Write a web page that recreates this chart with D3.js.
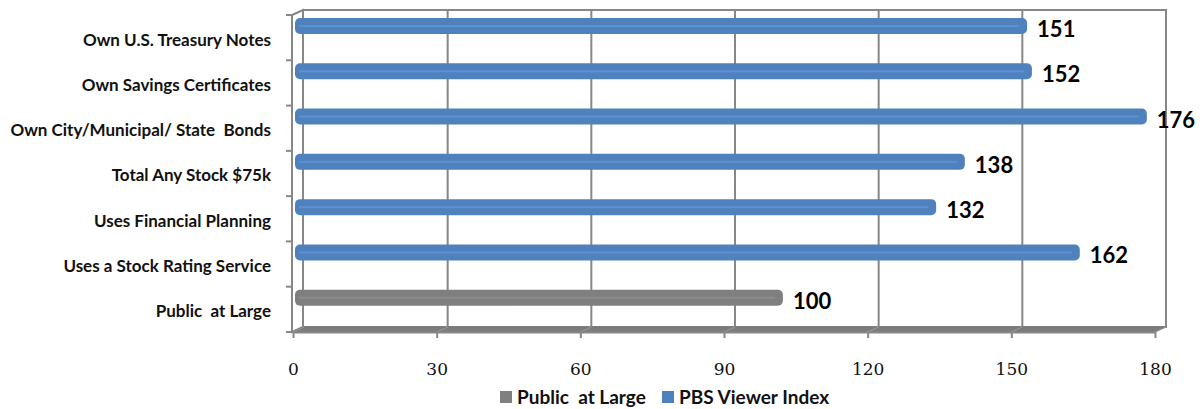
<!DOCTYPE html>
<html>
<head>
<meta charset="utf-8">
<script src="https://cdn.jsdelivr.net/npm/d3@7"></script>
<style>
  html, body { margin: 0; padding: 0; background: #fff; }
  svg { display: block; }
  text { white-space: pre; }
</style>
</head>
<body>
<svg id="chart" width="1204" height="409"></svg>
<script>
// Categories, top to bottom
const categories = [
  "Own U.S. Treasury Notes",
  "Own Savings Certificates",
  "Own City/Municipal/ State  Bonds",
  "Total Any Stock $75k",
  "Uses Financial Planning",
  "Uses a Stock Rating Service",
  "Public  at Large"
];
// Index value for each category
const values = [151, 152, 176, 138, 132, 162, 100];
// Series each category's bar belongs to
const seriesOf = [
  "PBS Viewer Index", "PBS Viewer Index", "PBS Viewer Index",
  "PBS Viewer Index", "PBS Viewer Index", "PBS Viewer Index",
  "Public  at Large"
];
const seriesNames = ["Public  at Large", "PBS Viewer Index"];
const xTicks = [0, 30, 60, 90, 120, 150, 180];

const svg = d3.select("#chart");

const plotL = 292, plotR = 1155, plotT = 15, plotB = 332;
const depthX = 11, depthY = -5;

const x = d3.scaleLinear().domain([0, 180]).range([plotL + 1, plotR]);
const y = d3.scaleBand().domain(categories).range([plotT, plotB]).padding(0);
const color = d3.scaleOrdinal().domain(seriesNames).range(["#7f7f7f", "#4f81bd"]);
const highlight = d3.scaleOrdinal().domain(seriesNames).range(["#8c8c8c", "#5c91d3"]);

const frame = "#878787";

// Back wall
svg.append("rect")
  .attr("x", plotL + depthX).attr("y", plotT + depthY)
  .attr("width", plotR - plotL).attr("height", plotB - plotT)
  .attr("fill", "#fff").attr("stroke", frame).attr("stroke-width", 2);

// Gridlines on the back wall
svg.append("g").selectAll("line")
  .data(xTicks.slice(1, -1))
  .join("line")
  .attr("x1", d => x(d) + depthX).attr("x2", d => x(d) + depthX)
  .attr("y1", plotT + depthY).attr("y2", plotB + depthY)
  .attr("stroke", frame).attr("stroke-width", 2);

// Left wall
svg.append("path")
  .attr("d", `M${plotL},${plotT}L${plotL + depthX},${plotT + depthY}L${plotL + depthX},${plotB + depthY}L${plotL},${plotB}Z`)
  .attr("fill", "#fff").attr("stroke", frame).attr("stroke-width", 2);

// Floor
svg.append("path")
  .attr("d", `M${plotL},${plotB}L${plotL + depthX},${plotB + depthY}L${plotR + depthX},${plotB + depthY}L${plotR},${plotB}Z`)
  .attr("fill", "#7c7c7c").attr("stroke", "#777").attr("stroke-width", 1);
svg.append("g").selectAll("line")
  .data(xTicks)
  .join("line")
  .attr("x1", d => x(d)).attr("y1", plotB)
  .attr("x2", d => x(d) + depthX).attr("y2", plotB + depthY)
  .attr("stroke", "#9a9a9a").attr("stroke-width", 1);

// Bars
const barH = 16, barOff = 3;
const bars = svg.append("g").selectAll("g")
  .data(categories.map((c, i) => ({ c, v: values[i], s: seriesOf[i] })))
  .join("g");
bars.append("rect")
  .attr("x", x(0) + 2)
  .attr("y", d => y(d.c) + barOff)
  .attr("width", d => x(d.v) + depthX - (x(0) + 2))
  .attr("height", barH)
  .attr("rx", 5).attr("ry", 5)
  .attr("fill", d => color(d.s));
bars.append("rect")
  .attr("x", x(0) + 6)
  .attr("y", d => y(d.c) + barOff + barH / 2 - 1)
  .attr("width", d => x(d.v) + depthX - (x(0) + 14))
  .attr("height", 2)
  .attr("fill", d => highlight(d.s));

// Value labels
bars.append("text")
  .attr("x", d => x(d.v) + depthX + 10)
  .attr("y", d => y(d.c) + barOff + barH / 2)
  .attr("dy", "0.5em")
  .attr("font-family", "Lato, 'Open Sans', sans-serif")
  .attr("font-weight", "bold")
  .attr("font-size", 22)
  .attr("fill", "#000")
  .text(d => d.v);

// Left axis line and ticks
svg.append("line")
  .attr("x1", plotL).attr("x2", plotL).attr("y1", plotT).attr("y2", plotB)
  .attr("stroke", frame).attr("stroke-width", 2);
const bandEdges = categories.map(c => y(c)).concat([plotB]);
svg.append("g").selectAll("line")
  .data(bandEdges)
  .join("line")
  .attr("x1", plotL - 6).attr("x2", plotL)
  .attr("y1", d => d).attr("y2", d => d)
  .attr("stroke", frame).attr("stroke-width", 2);

// Category labels
svg.append("g").selectAll("text")
  .data(categories)
  .join("text")
  .attr("x", 271)
  .attr("y", d => y(d) + y.bandwidth() / 2 + 2)
  .attr("dy", "0.35em")
  .attr("text-anchor", "end")
  .attr("font-family", "Lato, 'Open Sans', sans-serif")
  .attr("font-weight", "bold")
  .attr("font-size", 17)
  .attr("fill", "#111")
  .text(d => d);

// Bottom axis
const xAxis = svg.append("g")
  .attr("transform", `translate(0,${plotB})`)
  .call(d3.axisBottom(x).tickValues(xTicks).tickSize(6).tickPadding(25).tickSizeOuter(0));
xAxis.select(".domain").attr("stroke", frame).attr("stroke-width", 2);
xAxis.selectAll(".tick line").attr("stroke", frame).attr("stroke-width", 2);
xAxis.selectAll(".tick text")
  .attr("font-family", "'DejaVu Serif', 'Liberation Serif', serif")
  .attr("font-size", 17)
  .attr("fill", "#111");

// Legend
const legend = svg.append("g").attr("transform", "translate(500,397)");
const legX = [0, 162];
seriesNames.forEach((s, i) => {
  const g = legend.append("g").attr("transform", `translate(${legX[i]},0)`);
  g.append("rect").attr("x", 0).attr("y", -6).attr("width", 12).attr("height", 12).attr("fill", color(s));
  g.append("text").attr("x", 17).attr("y", 0).attr("dy", "0.38em")
    .attr("font-family", "Lato, 'Open Sans', sans-serif")
    .attr("font-weight", "bold").attr("font-size", 19).attr("fill", "#111")
    .text(s);
});
</script>
</body>
</html>
